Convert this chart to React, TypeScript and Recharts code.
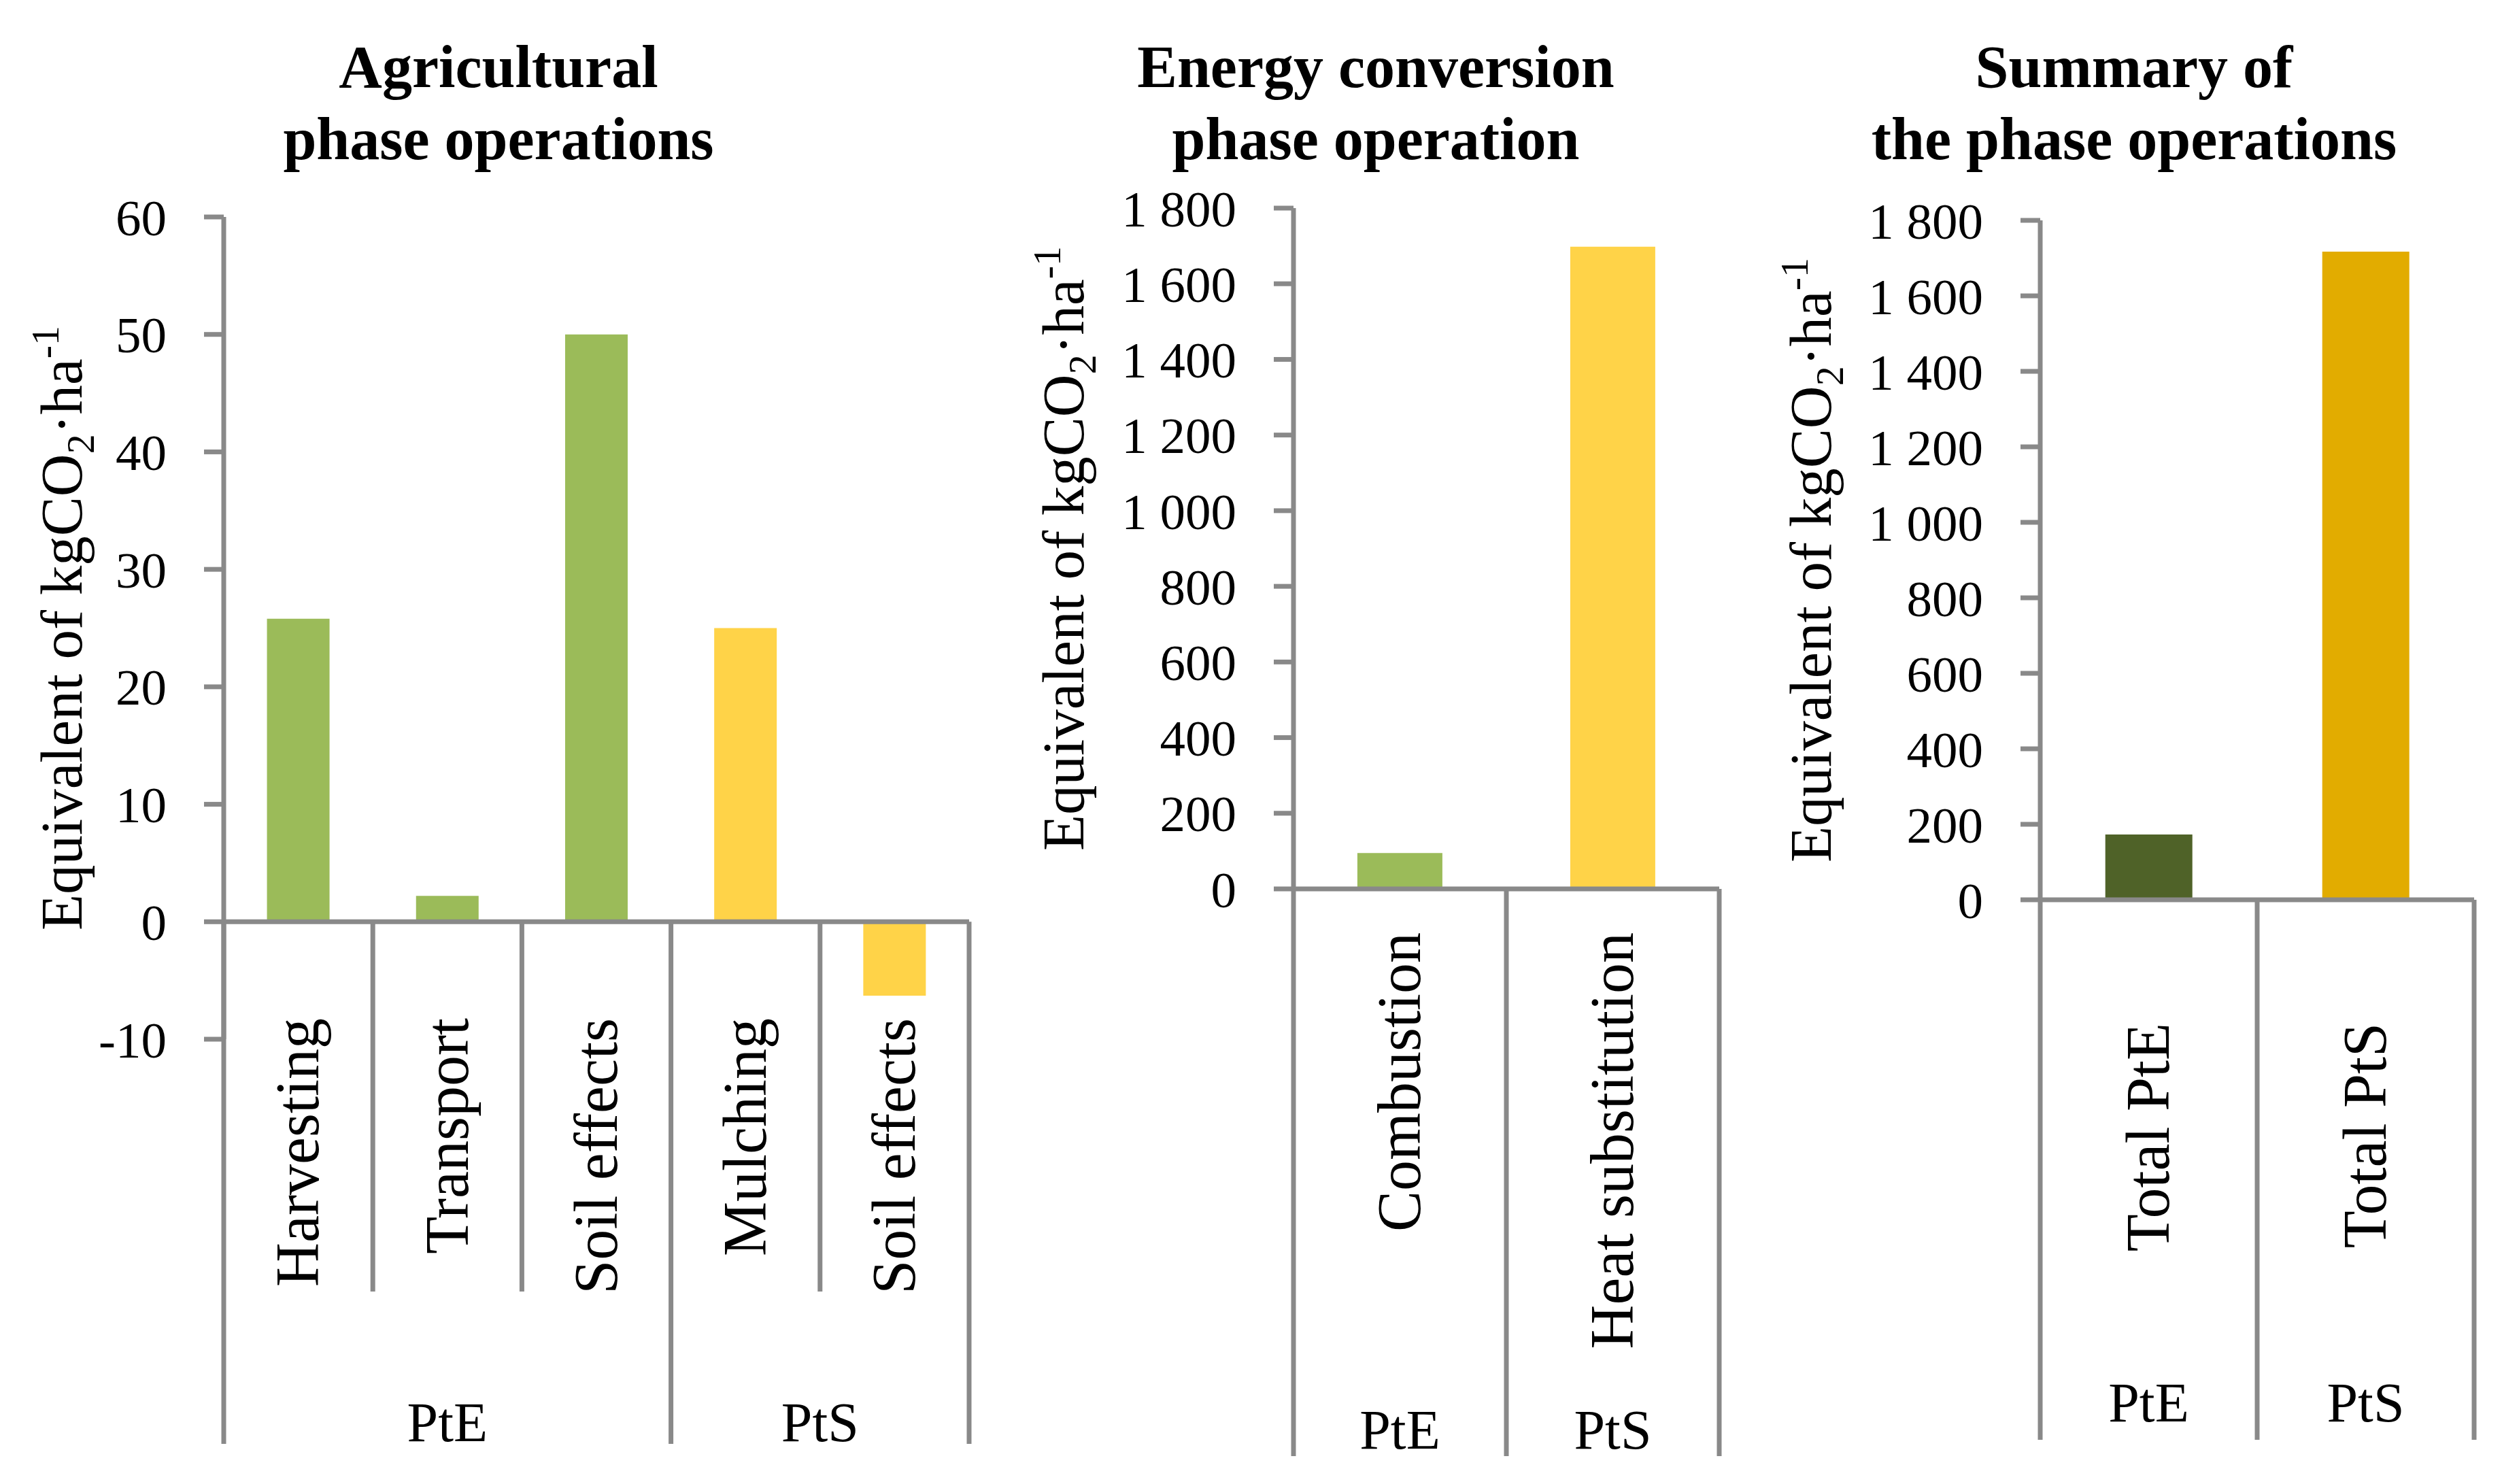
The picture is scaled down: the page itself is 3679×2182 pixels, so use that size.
import { BarChart, Bar, Cell, XAxis, YAxis, ReferenceLine } from "recharts";

const AGRI_CATEGORIES = ["Harvesting", "Transport", "Soil effects", "Mulching", "Soil effects"];
const AGRI_GROUPS = ["PtE", "PtE", "PtE", "PtS", "PtS"];
const AGRI_VALUES = [25.8, 2.2, 50.0, 25.0, -6.3];
const AGRI_TICKS = [-10, 0, 10, 20, 30, 40, 50, 60];

const ENERGY_CATEGORIES = ["Combustion", "Heat substitution"];
const ENERGY_GROUPS = ["PtE", "PtS"];
const ENERGY_VALUES = [95, 1698];

const SUMMARY_CATEGORIES = ["Total PtE", "Total PtS"];
const SUMMARY_GROUPS = ["PtE", "PtS"];
const SUMMARY_VALUES = [173, 1717];

const KG_TICKS = [0, 200, 400, 600, 800, 1000, 1200, 1400, 1600, 1800];

const PHASE_COLORS: Record<string, string> = { PtE: "#9BBB59", PtS: "#FFD348" };
const TOTAL_COLORS: Record<string, string> = { PtE: "#4F6228", PtS: "#E2AC00" };

const GRAY = "#898989";
const FONT = "'Liberation Serif', 'Times New Roman', serif";
const H = 2182;

const makeRows = (cats: string[], groups: string[], vals: number[]) =>
  cats.map((name, i) => ({ id: `${groups[i]}-${i}`, name, group: groups[i], value: vals[i] }));

const fmt = (v: number) =>
  Math.abs(v) >= 1000 ? `${Math.floor(v / 1000)} ${String(v % 1000).padStart(3, "0")}` : String(v);

function CategoryTick(props: any) {
  const { x, rows, band, zeroY, labelTop, shortBottom, tallBottom, groupBaseline } = props;
  const index = props.index ?? props.payload?.index ?? 0;
  const row = rows[index];
  if (!row) return null;
  const groupStart = index === 0 || rows[index - 1].group !== row.group;
  const groupEnd = index === rows.length - 1 || rows[index + 1].group !== row.group;
  let count = 0;
  if (groupStart) {
    for (let j = index; j < rows.length && rows[j].group === row.group; j++) count++;
  }
  return (
    <g>
      {index === 0 && (
        <line x1={x - band / 2} x2={x - band / 2} y1={zeroY} y2={tallBottom} stroke={GRAY} strokeWidth={7} />
      )}
      <line
        x1={x + band / 2}
        x2={x + band / 2}
        y1={zeroY}
        y2={groupEnd ? tallBottom : shortBottom}
        stroke={GRAY}
        strokeWidth={7}
      />
      <g transform={`translate(${x},${labelTop}) rotate(-90)`}>
        <text x={0} y={0} dy="0.33em" textAnchor="end" fontSize={90} fontFamily={FONT} fill="#000">
          {row.name}
        </text>
      </g>
      {groupStart && (
        <text
          x={x + ((count - 1) * band) / 2}
          y={groupBaseline}
          textAnchor="middle"
          fontSize={82}
          fontFamily={FONT}
          fill="#000"
        >
          {row.group}
        </text>
      )}
    </g>
  );
}

function YTitle({ bx, cy }: any) {
  return (
    <text
      x={bx}
      y={cy}
      transform={`rotate(-90, ${bx}, ${cy})`}
      textAnchor="middle"
      fontSize={87}
      fontFamily={FONT}
      fill="#000"
    >
      Equivalent of kgCO
      <tspan dy={18} fontSize={58}>2</tspan>
      <tspan dy={-18}>·ha</tspan>
      <tspan dy={-34} fontSize={58}>-1</tspan>
    </text>
  );
}

function Panel(p: any) {
  const rows = p.rows;
  const band = (p.plotRight - p.plotLeft) / rows.length;
  const [min, max] = p.domain;
  const zeroY = p.plotTop + ((max - 0) / (max - min)) * (p.plotBottom - p.plotTop);
  const yAxisWidth = p.plotLeft - p.left;
  const titleX = yAxisWidth - p.titleOffset;
  const titleY = (p.plotTop + p.plotBottom) / 2;
  return (
    <div style={{ position: "absolute", left: p.left, top: 0 }}>
      <BarChart
        width={p.width}
        height={H}
        data={rows}
        margin={{ top: p.plotTop, right: p.left + p.width - p.plotRight, left: 0, bottom: 0 }}
        barCategoryGap={p.gap}
      >
        <XAxis
          dataKey="id"
          type="category"
          interval={0}
          height={H - p.plotBottom}
          axisLine={false}
          tickLine={false}
          tick={(tp: any) => (
            <CategoryTick
              {...tp}
              rows={rows}
              band={band}
              zeroY={zeroY}
              labelTop={p.labelTop}
              shortBottom={p.shortBottom}
              tallBottom={p.tallBottom}
              groupBaseline={p.groupBaseline}
            />
          )}
        />
        <YAxis
          width={yAxisWidth}
          domain={p.domain}
          ticks={p.ticks}
          interval={0}
          tickFormatter={fmt}
          tickSize={29}
          tickMargin={55}
          axisLine={{ stroke: GRAY, strokeWidth: 7 }}
          tickLine={{ stroke: GRAY, strokeWidth: 7 }}
          tick={{ fill: "#000", fontSize: 75, fontFamily: FONT }}
          label={{ content: () => <YTitle bx={titleX} cy={titleY} /> }}
        />
        <ReferenceLine y={0} stroke={GRAY} strokeWidth={7} />
        <Bar dataKey="value" isAnimationActive={false}>
          {rows.map((r: any, i: number) => (
            <Cell key={i} fill={p.colors[r.group]} />
          ))}
        </Bar>
      </BarChart>
    </div>
  );
}

function Title({ cx, lines }: { cx: number; lines: string[] }) {
  return (
    <div
      style={{
        position: "absolute",
        left: cx - 700,
        width: 1400,
        top: 46,
        textAlign: "center",
        fontFamily: FONT,
        fontWeight: "bold",
        fontSize: 88,
        lineHeight: "106px",
        color: "#000",
        whiteSpace: "nowrap",
      }}
    >
      {lines.map((l, i) => (
        <div key={i}>{l}</div>
      ))}
    </div>
  );
}

export default function App() {
  const agri = makeRows(AGRI_CATEGORIES, AGRI_GROUPS, AGRI_VALUES);
  const energy = makeRows(ENERGY_CATEGORIES, ENERGY_GROUPS, ENERGY_VALUES);
  const summary = makeRows(SUMMARY_CATEGORIES, SUMMARY_GROUPS, SUMMARY_VALUES);
  return (
    <div style={{ position: "absolute", left: 0, top: 0, width: 3679, height: H, background: "#fff", overflow: "hidden" }}>
      <Panel
        left={0}
        width={1470}
        plotLeft={329}
        plotRight={1425}
        plotTop={319}
        plotBottom={1528}
        domain={[-10, 60]}
        ticks={AGRI_TICKS}
        rows={agri}
        colors={PHASE_COLORS}
        gap="29%"
        labelTop={1497}
        shortBottom={1899}
        tallBottom={2123}
        groupBaseline={2119}
        titleOffset={209}
      />
      <Panel
        left={1450}
        width={1150}
        plotLeft={1902}
        plotRight={2528}
        plotTop={306}
        plotBottom={1307}
        domain={[0, 1800]}
        ticks={KG_TICKS}
        rows={energy}
        colors={PHASE_COLORS}
        gap="30%"
        labelTop={1371}
        shortBottom={2141}
        tallBottom={2141}
        groupBaseline={2130}
        titleOffset={309}
      />
      <Panel
        left={2600}
        width={1079}
        plotLeft={3000}
        plotRight={3638}
        plotTop={324}
        plotBottom={1323}
        domain={[0, 1800]}
        ticks={KG_TICKS}
        rows={summary}
        colors={TOTAL_COLORS}
        gap="30%"
        labelTop={1504}
        shortBottom={2117}
        tallBottom={2117}
        groupBaseline={2090}
        titleOffset={308}
      />
      <Title cx={733} lines={["Agricultural", "phase operations"]} />
      <Title cx={2023} lines={["Energy conversion", "phase operation"]} />
      <Title cx={3138} lines={["Summary of", "the phase operations"]} />
    </div>
  );
}
